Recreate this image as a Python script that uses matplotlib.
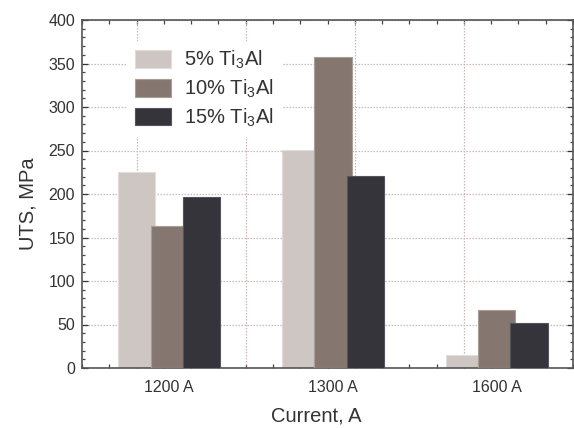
import numpy as np
import matplotlib
matplotlib.use("Agg")
import matplotlib.pyplot as plt
from matplotlib.ticker import MultipleLocator, FixedLocator

plt.rcParams['font.family'] = ['Liberation Sans', 'DejaVu Sans']
plt.rcParams['mathtext.fontset'] = 'custom'
plt.rcParams['mathtext.rm'] = 'Liberation Sans'
plt.rcParams['mathtext.it'] = 'Liberation Sans:italic'
plt.rcParams['mathtext.default'] = 'rm'

categories = ['1200 A', '1300 A', '1600 A']
series_labels = ['5% Ti$_3$Al', '10% Ti$_3$Al', '15% Ti$_3$Al']
uts_5 = [225, 251, 15]
uts_10 = [163, 358, 67]
uts_15 = [197, 221, 52]
series = [uts_5, uts_10, uts_15]
colors = ['#cdc6c3', '#857670', '#35343a']
edges = ['#e2dcda', '#a99d98', '#55545a']

fig = plt.figure(figsize=(5.74, 4.28), dpi=100)
ax = fig.add_axes([82/574, 1-368/428, 491/574, 348/428])

x = np.arange(len(categories))
offset = 0.198
width = 0.228
for i, (vals, c, e, lab) in enumerate(zip(series, colors, edges, series_labels)):
    ax.bar(x + (i-1)*offset, vals, width=width, color=c, edgecolor=e,
           linewidth=0.8, label=lab, zorder=2+i)

x0 = -0.533
ax.set_xlim(x0, x0+3)
ax.set_ylim(0, 400)

# grid
grid_x = [x0 + 2/6 + k*4/6 for k in range(4)]
for gx in grid_x:
    ax.axvline(gx, color='#c9b9b9', linestyle=(0, (1.2, 1.2)), linewidth=0.9, zorder=1)
ax.yaxis.set_major_locator(MultipleLocator(50))
ax.yaxis.set_minor_locator(MultipleLocator(10))
ax.grid(axis='y', which='major', color='#c9b9b9', linestyle=(0, (1.2, 1.2)), linewidth=0.9, zorder=1)
ax.set_axisbelow(True)

ax.set_xticks(x)
ax.set_xticklabels(categories)
ax.xaxis.set_minor_locator(FixedLocator([x0 + k/6 for k in range(19)]))
ax.tick_params(axis='x', which='major', length=0, pad=9, labelsize=11.5, colors='#333333')
ax.tick_params(axis='x', which='minor', direction='in', length=3, width=0.9,
               top=True, bottom=True, color='#444444')
ax.tick_params(axis='y', which='major', direction='in', length=4, width=0.9,
               left=True, right=True, labelsize=11.5, colors='#333333', pad=5)
ax.tick_params(axis='y', which='minor', direction='in', length=2.5, width=0.9,
               left=True, right=True, color='#444444')
for sp in ax.spines.values():
    sp.set_color('#555555')
    sp.set_linewidth(1.2)

ax.set_xlabel('Current, A', fontsize=14.5, color='#333333')
ax.set_ylabel('UTS, MPa', fontsize=14.5, color='#333333')
ax.xaxis.set_label_coords((316-82)/491, -(407-368)/348, transform=ax.transAxes)
ax.yaxis.set_label_coords(-(82-37)/491, (368-204)/348)
ax.xaxis.label.set_va('top')

leg = ax.legend(loc='upper left', bbox_to_anchor=((127-82)/491, (368-41)/348),
                borderaxespad=0, frameon=True, fancybox=False, framealpha=1,
                facecolor='white', edgecolor='none', fontsize=14.5,
                handlelength=1.8, handleheight=0.95, handletextpad=0.65,
                labelspacing=0.32, borderpad=0.4)
leg.set_zorder(10)
for t in leg.get_texts():
    t.set_color('#333333')

fig.savefig('out.png', dpi=100)
